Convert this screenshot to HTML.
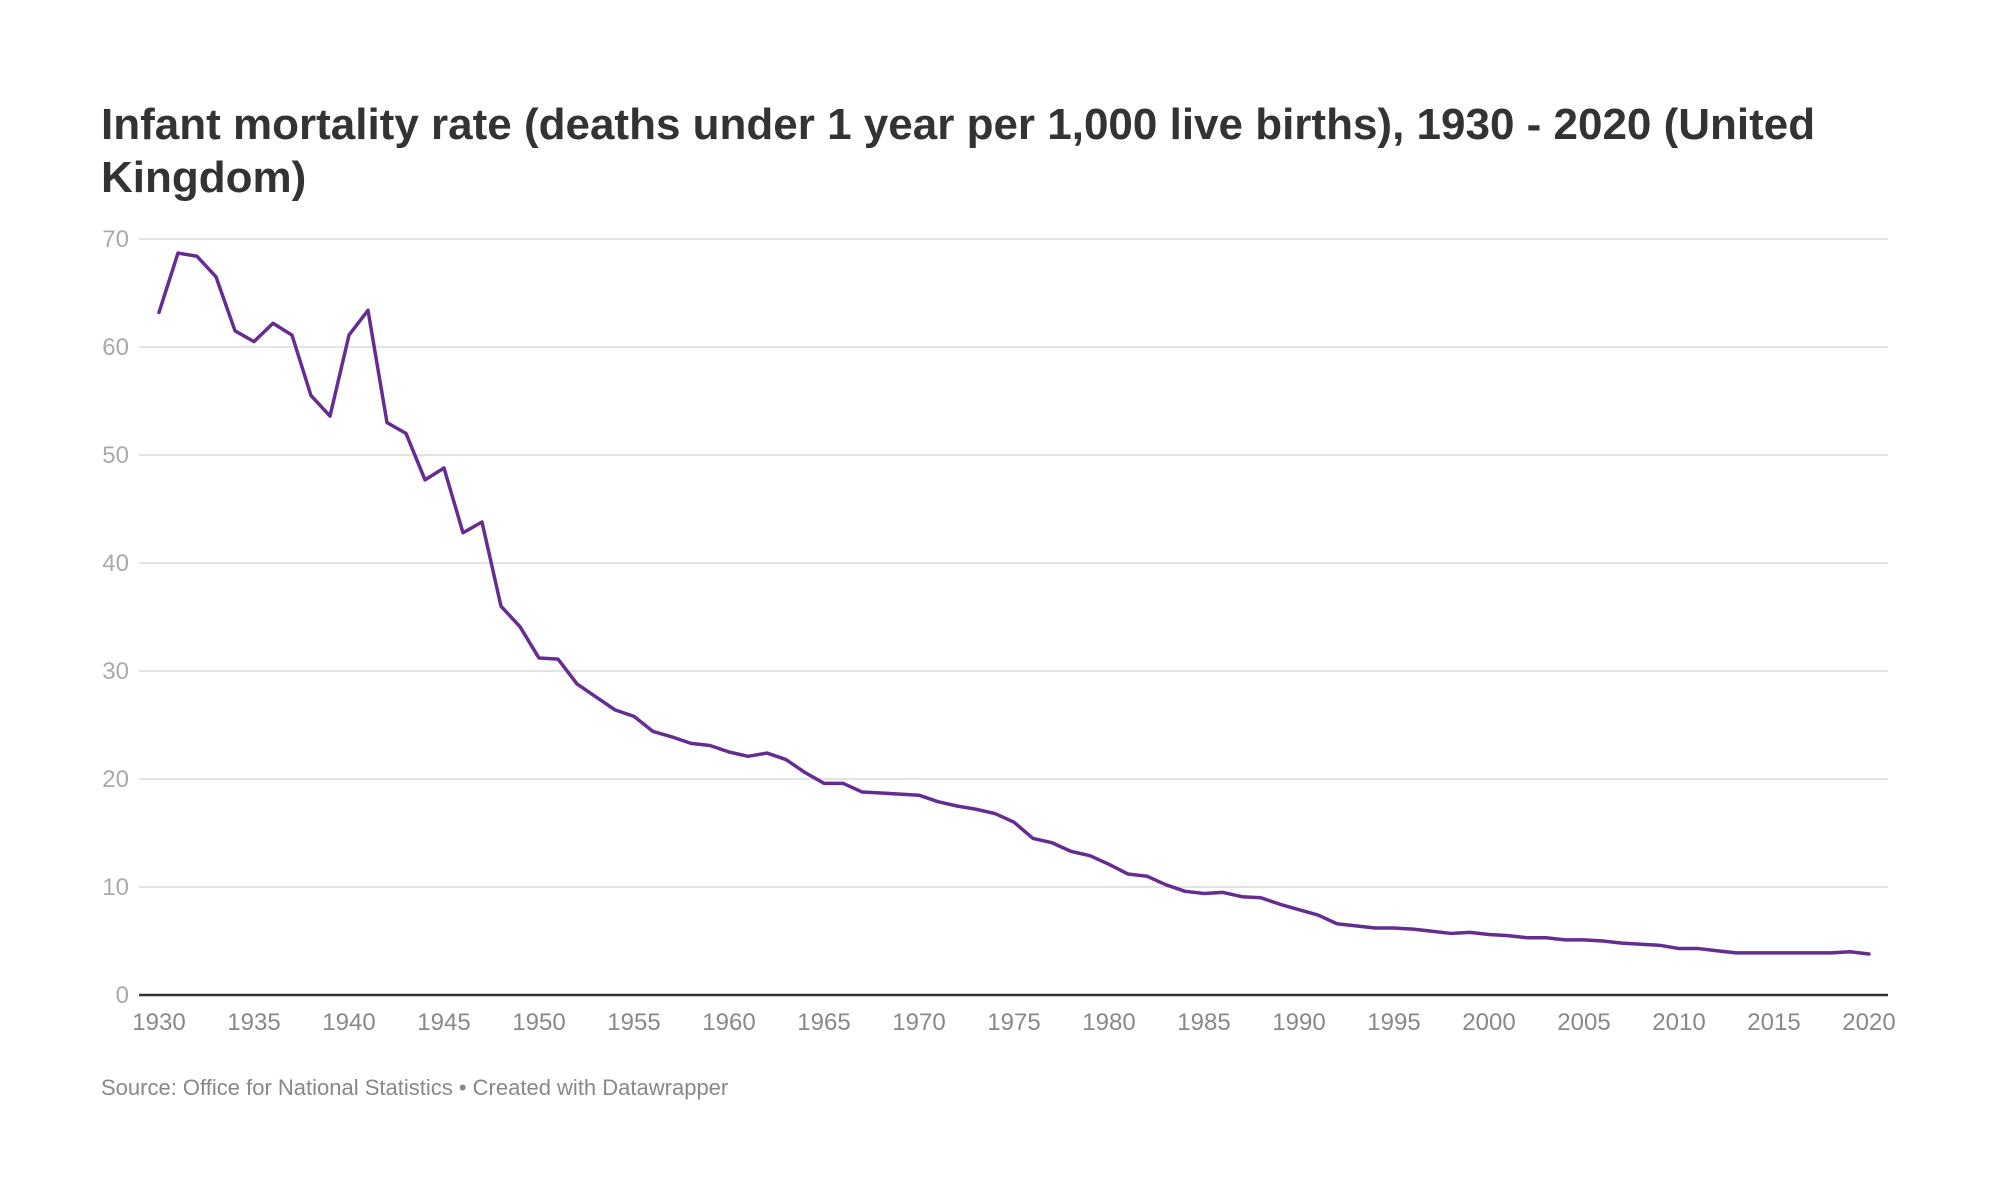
<!DOCTYPE html>
<html><head><meta charset="utf-8"><style>
body{margin:0;background:#fff;font-family:"Liberation Sans",sans-serif}
#c{position:relative;width:2000px;height:1200px;overflow:hidden}
h1{position:absolute;left:101px;top:98px;margin:0;font-size:44px;line-height:53px;font-weight:bold;color:#333;width:1800px}
#src{position:absolute;left:101px;top:1075px;font-size:22px;color:#888}
</style></head><body>
<div id="c">
<h1>Infant mortality rate (deaths under 1 year per 1,000 live births), 1930 - 2020 (United Kingdom)</h1>
<svg id="s" width="2000" height="1200" style="position:absolute;left:0;top:0"></svg>
<div id="src">Source: Office for National Statistics • Created with Datawrapper</div>
</div>
<script>
const years=[];for(let y=1930;y<=2020;y++)years.push(y);
const rates=[63.2,68.7,68.4,66.5,61.5,60.5,62.2,61.1,55.5,53.6,61.1,63.4,53.0,52.0,47.7,48.8,42.8,43.8,36.0,34.1,
31.2,31.1,28.8,27.6,26.4,25.8,24.4,23.9,23.3,23.1,22.5,22.1,22.4,21.8,20.6,19.6,19.6,18.8,18.7,18.6,
18.5,17.9,17.5,17.2,16.8,16.0,14.5,14.1,13.3,12.9,12.1,11.2,11.0,10.2,9.6,9.4,9.5,9.1,9.0,8.4,
7.9,7.4,6.6,6.4,6.2,6.2,6.1,5.9,5.7,5.8,5.6,5.5,5.3,5.3,5.1,5.1,5.0,4.8,4.7,4.6,
4.3,4.3,4.1,3.9,3.9,3.9,3.9,3.9,3.9,4.0,3.8];
const yTicks=[0,10,20,30,40,50,60,70];
const xTicks=[1930,1935,1940,1945,1950,1955,1960,1965,1970,1975,1980,1985,1990,1995,2000,2005,2010,2015,2020];
const NS="http://www.w3.org/2000/svg",s=document.getElementById('s');
const X=v=>159+(v-1930)*19.0, Y=v=>995-v*10.8;
function mk(t,a){const e=document.createElementNS(NS,t);for(const k in a)e.setAttribute(k,a[k]);s.appendChild(e);return e;}
yTicks.forEach(t=>{
 if(t>0){const l=mk('line',{x1:139,x2:1888,y1:Y(t),y2:Y(t),stroke:'#e3e3e3','stroke-width':2});
 
 }
 const tx=mk('text',{x:129,y:Y(t)+8,'text-anchor':'end','font-size':24,fill:'#aaa','font-family':'Liberation Sans, sans-serif'});
 tx.textContent=t;
 
 
});
const ax=mk('line',{x1:139,x2:1888,y1:995,y2:995,stroke:'#333','stroke-width':2.5});


xTicks.forEach(t=>{
 const tx=mk('text',{x:X(t),y:1030,'text-anchor':'middle','font-size':24,fill:'#888','font-family':'Liberation Sans, sans-serif'});
 tx.textContent=t;
 
 
});
const p=mk('polyline',{points:years.map((y,i)=>X(y)+','+Y(rates[i])).join(' '),fill:'none',stroke:'#662d91','stroke-width':3.5,'stroke-linejoin':'round','stroke-linecap':'round'});


</script>
</body></html>
